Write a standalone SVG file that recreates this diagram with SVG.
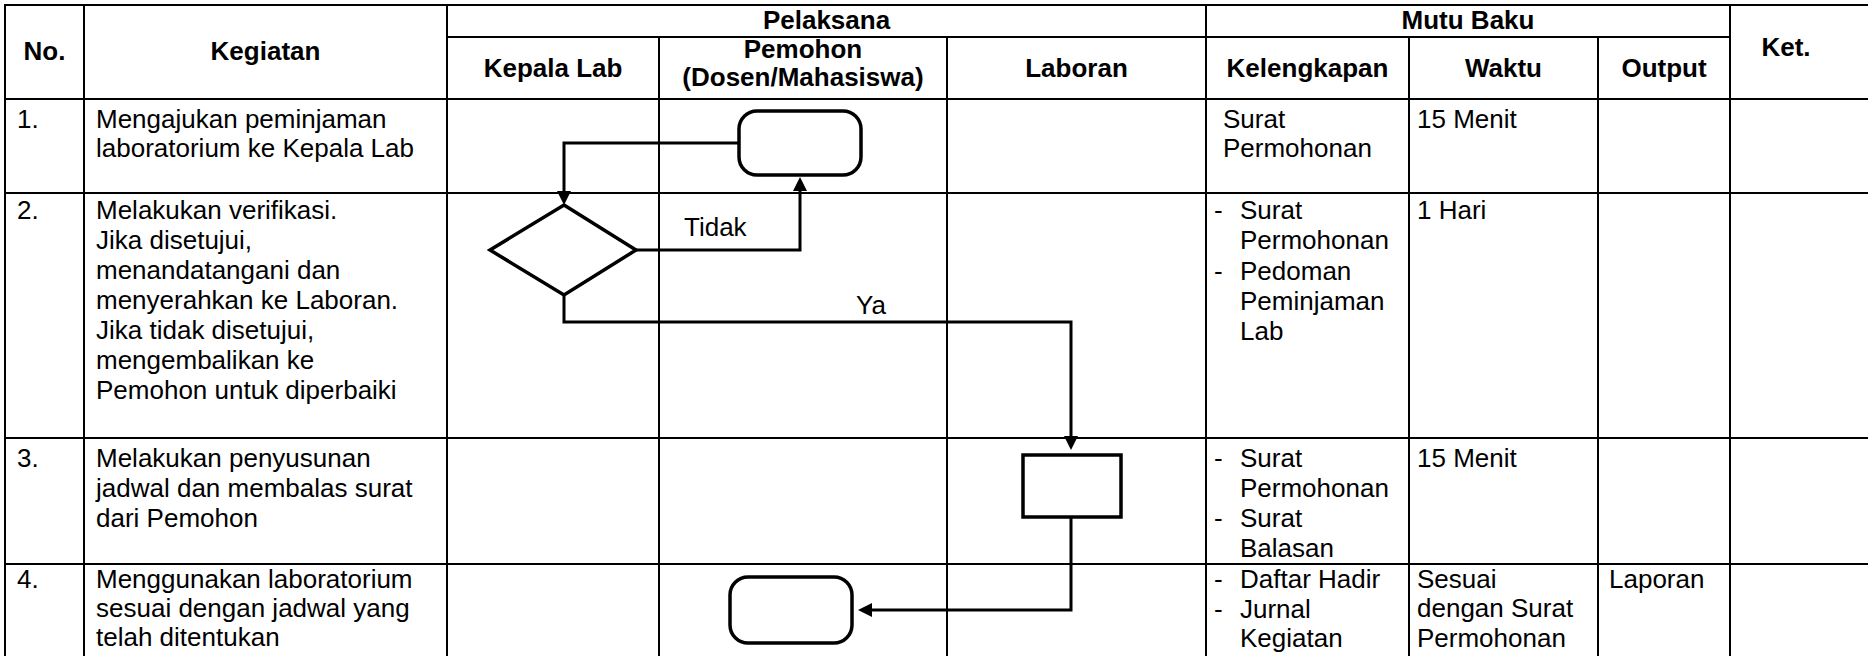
<svg xmlns="http://www.w3.org/2000/svg" width="1868" height="656" viewBox="0 0 1868 656">
<defs>
<style>
.grid{stroke:#000;stroke-width:2;fill:none}
.shape{fill:#fff;stroke:#000;stroke-width:3.5}
.conn{fill:none;stroke:#000;stroke-width:3}
text{font-family:"Liberation Sans",Arial,Helvetica,sans-serif;font-size:26px;fill:#000}
.h{font-weight:bold;text-anchor:middle}
</style>
<marker id="arrow" viewBox="0 0 14 14" markerUnits="userSpaceOnUse" markerWidth="14" markerHeight="14" refX="10" refY="7" orient="auto">
<path d="M0,0 L14,7 L0,14 z" fill="#000"/>
</marker>
</defs>
<rect x="0" y="0" width="1868" height="656" fill="#fff"/>
<g id="table" class="grid">
<line x1="4" y1="5" x2="1868" y2="5"/>
<line x1="447" y1="37" x2="1730" y2="37"/>
<line x1="4" y1="99" x2="1868" y2="99"/>
<line x1="4" y1="193" x2="1868" y2="193"/>
<line x1="4" y1="438" x2="1868" y2="438"/>
<line x1="4" y1="564" x2="1868" y2="564"/>
<line x1="5" y1="4" x2="5" y2="656"/>
<line x1="84" y1="4" x2="84" y2="656"/>
<line x1="447" y1="4" x2="447" y2="656"/>
<line x1="659" y1="37" x2="659" y2="656"/>
<line x1="947" y1="37" x2="947" y2="656"/>
<line x1="1206" y1="4" x2="1206" y2="656"/>
<line x1="1409" y1="37" x2="1409" y2="656"/>
<line x1="1598" y1="37" x2="1598" y2="656"/>
<line x1="1730" y1="4" x2="1730" y2="656"/>
</g>
<g id="header">
<text class="h" x="44.5" y="60">No.</text>
<text class="h" x="265.5" y="60">Kegiatan</text>
<text class="h" x="826.5" y="29">Pelaksana</text>
<text class="h" x="1468" y="29">Mutu Baku</text>
<text class="h" x="553" y="77">Kepala Lab</text>
<text class="h" x="803" y="58">Pemohon</text>
<text class="h" x="803" y="86">(Dosen/Mahasiswa)</text>
<text class="h" x="1076.5" y="77">Laboran</text>
<text class="h" x="1307.5" y="77">Kelengkapan</text>
<text class="h" x="1503.5" y="77">Waktu</text>
<text class="h" x="1664" y="77">Output</text>
<text class="h" x="1786" y="56">Ket.</text>
</g>
<g id="row1">
<text x="17" y="128">1.</text>
<text x="96" y="128">Mengajukan peminjaman</text>
<text x="96" y="157">laboratorium ke Kepala Lab</text>
<text x="1223" y="128">Surat</text>
<text x="1223" y="157">Permohonan</text>
<text x="1417" y="128">15 Menit</text>
</g>
<g id="row2">
<text x="17" y="219">2.</text>
<text x="96" y="219">Melakukan verifikasi.</text>
<text x="96" y="249">Jika disetujui,</text>
<text x="96" y="279">menandatangani dan</text>
<text x="96" y="309">menyerahkan ke Laboran.</text>
<text x="96" y="339">Jika tidak disetujui,</text>
<text x="96" y="369">mengembalikan ke</text>
<text x="96" y="399">Pemohon untuk diperbaiki</text>
<text x="1214" y="219">-</text>
<text x="1240" y="219">Surat</text>
<text x="1240" y="249">Permohonan</text>
<text x="1214" y="280">-</text>
<text x="1240" y="280">Pedoman</text>
<text x="1240" y="310">Peminjaman</text>
<text x="1240" y="340">Lab</text>
<text x="1417" y="219">1 Hari</text>
</g>
<g id="row3">
<text x="17" y="467">3.</text>
<text x="96" y="467">Melakukan penyusunan</text>
<text x="96" y="497">jadwal dan membalas surat</text>
<text x="96" y="527">dari Pemohon</text>
<text x="1214" y="467">-</text>
<text x="1240" y="467">Surat</text>
<text x="1240" y="496.5">Permohonan</text>
<text x="1214" y="527">-</text>
<text x="1240" y="527">Surat</text>
<text x="1240" y="556.5">Balasan</text>
<text x="1417" y="467">15 Menit</text>
</g>
<g id="row4">
<text x="17" y="588">4.</text>
<text x="96" y="588">Menggunakan laboratorium</text>
<text x="96" y="617">sesuai dengan jadwal yang</text>
<text x="96" y="646">telah ditentukan</text>
<text x="1214" y="588">-</text>
<text x="1240" y="588">Daftar Hadir</text>
<text x="1214" y="618">-</text>
<text x="1240" y="618">Jurnal</text>
<text x="1240" y="647">Kegiatan</text>
<text x="1417" y="588">Sesuai</text>
<text x="1417" y="617">dengan Surat</text>
<text x="1417" y="647">Permohonan</text>
<text x="1609" y="588">Laporan</text>
</g>
<g id="connectors">
<path class="conn" d="M739,143 H564 V201" marker-end="url(#arrow)"/>
<path class="conn" d="M636,250 H800 V181" marker-end="url(#arrow)"/>
<path class="conn" d="M564,295 V322 H1071 V446" marker-end="url(#arrow)"/>
<path class="conn" d="M1071,517 V610 H862" marker-end="url(#arrow)"/>
<text x="684" y="236">Tidak</text>
<text x="856" y="314">Ya</text>
</g>
<g id="n1-start"><rect class="shape" x="739" y="111" width="122" height="64" rx="18" ry="18"/></g>
<g id="n2-verify"><polygon class="shape" points="564,205 636,250 564,295 490,250"/></g>
<g id="n3-schedule"><rect class="shape" x="1023" y="455" width="98" height="62"/></g>
<g id="n4-use"><rect class="shape" x="730" y="577" width="122" height="66" rx="18" ry="18"/></g>
</svg>
